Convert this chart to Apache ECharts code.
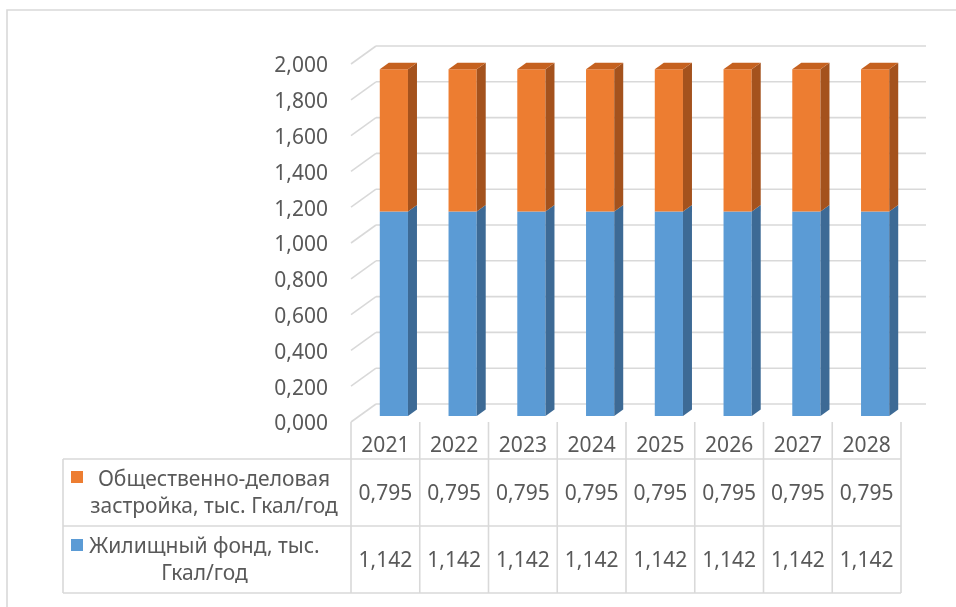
<!DOCTYPE html>
<html>
<head>
<meta charset="utf-8">
<script src="https://cdn.jsdelivr.net/npm/echarts@6/dist/echarts.min.js"></script>
<style>
  html, body { margin: 0; padding: 0; background: #ffffff; }
  #chart { width: 956px; height: 607px; }
</style>
</head>
<body>
<div id="chart"></div>
<script>
// Heat demand, thousand Gcal per year, by consumer group
const years = ['2021', '2022', '2023', '2024', '2025', '2026', '2027', '2028'];
const housing = [1.142, 1.142, 1.142, 1.142, 1.142, 1.142, 1.142, 1.142];
const publicBuildings = [0.795, 0.795, 0.795, 0.795, 0.795, 0.795, 0.795, 0.795];
const yTicks = [0, 0.2, 0.4, 0.6, 0.8, 1.0, 1.2, 1.4, 1.6, 1.8, 2.0];
const rowLabels = [
  ['Общественно-деловая', 'застройка, тыс. Гкал/год'],
  ['Жилищный фонд, тыс.', 'Гкал/год']
];

const FONT = '"Noto Sans", "Open Sans", sans-serif';
const TEXT = '#595959';
const LINE = '#D9D9D9';
const DEPTH = [25, -18];            // offset of the back wall from the front plane
const BAR_FRONT = 0.34, BAR_BACK = 0.70;  // bar placement inside the depth
const TABLE_LEFT = 63;
const ROWS = [37, 104, 171];        // table row bottoms below the floor edge

const colors = {
  public:  { front: '#ED7D31', side: '#A4521D', top: '#C5611F' },
  housing: { front: '#5B9BD5', side: '#3D6A95', top: '#4A83B8' }
};

const fmt = v => v.toFixed(3).replace('.', ',');

const chart = echarts.init(document.getElementById('chart'), null, { renderer: 'canvas' });

// back wall grid lines, slanted side wall lines and the value labels
function renderGrid(params, api) {
  const cs = params.coordSys;
  const v = api.value(1);
  const y = api.coord([0, v])[1];
  const x0 = cs.x, x1 = cs.x + cs.width;
  const st = { stroke: LINE, lineWidth: 1.6 };
  return {
    type: 'group',
    children: [
      { type: 'line', shape: { x1: x0, y1: y, x2: x0 + DEPTH[0], y2: y + DEPTH[1] }, style: st },
      { type: 'line', shape: { x1: x0 + DEPTH[0], y1: y + DEPTH[1], x2: x1 + DEPTH[0], y2: y + DEPTH[1] }, style: st },
      { type: 'text', style: { text: fmt(v), x: x0 - 23, y: y + 2.5, align: 'right', verticalAlign: 'middle',
                               fontSize: 21, fontFamily: FONT, fill: TEXT } }
    ]
  };
}

// stacked prism columns
function renderBars(params, api) {
  const i = api.value(0);
  const h = api.value(1), p = api.value(2);
  const band = api.size([1, 0])[0];
  const w = band * 0.41;
  const c0 = api.coord([i, 0]);
  const c1 = api.coord([i, h]);
  const c2 = api.coord([i, h + p]);
  const fx = DEPTH[0] * BAR_FRONT, fy = DEPTH[1] * BAR_FRONT;
  const dx = DEPTH[0] * (BAR_BACK - BAR_FRONT), dy = DEPTH[1] * (BAR_BACK - BAR_FRONT);
  const L = c0[0] - w / 2 + fx, R = c0[0] + w / 2 + fx;
  const y0 = c0[1] + fy, y1 = c1[1] + fy, y2 = c2[1] + fy;
  function block(yb, yt, col, withTop) {
    const els = [
      { type: 'polygon', shape: { points: [[L, yb], [R, yb], [R, yt], [L, yt]] }, style: { fill: col.front } },
      { type: 'polygon', shape: { points: [[R, yb], [R + dx, yb + dy], [R + dx, yt + dy], [R, yt]] }, style: { fill: col.side } }
    ];
    if (withTop) {
      els.push({ type: 'polygon', shape: { points: [[L, yt], [R, yt], [R + dx, yt + dy], [L + dx, yt + dy]] }, style: { fill: col.top } });
    }
    return els;
  }
  return {
    type: 'group',
    children: block(y0, y1, colors.housing, false).concat(block(y1, y2, colors.public, true))
  };
}

// data table under the plot
function renderTable(params, api) {
  const cs = params.coordSys;
  const i = api.value(0);
  const band = api.size([1, 0])[0];
  const cx = api.coord([i, 0])[0];
  const base = cs.y + cs.height;
  const st = { stroke: LINE, lineWidth: 1.6 };
  const txt = (s, y, size) => ({
    type: 'text',
    style: { text: s, x: cx, y: y, align: 'center', verticalAlign: 'middle',
             fontSize: size, fontFamily: FONT, fill: TEXT }
  });
  const els = [
    { type: 'line', shape: { x1: cx - band / 2, y1: base, x2: cx - band / 2, y2: base + ROWS[2] }, style: st },
    txt(years[i], base + 24.5, 21),
    txt(fmt(api.value(2)), base + 72.5, 21),
    txt(fmt(api.value(1)), base + 139.5, 21)
  ];
  if (i === years.length - 1) {
    els.push({ type: 'line', shape: { x1: cx + band / 2, y1: base, x2: cx + band / 2, y2: base + ROWS[2] }, style: st });
  }
  if (i === 0) {
    const right = cs.x + cs.width;
    ROWS.forEach(r => {
      els.push({ type: 'line', shape: { x1: TABLE_LEFT, y1: base + r, x2: right, y2: base + r }, style: st });
    });
    els.push({ type: 'line', shape: { x1: TABLE_LEFT, y1: base + ROWS[0], x2: TABLE_LEFT, y2: base + ROWS[2] }, style: st });
  }
  return { type: 'group', children: els };
}

const rowText = (s, x, y) => ({
  type: 'text', x: x, y: y,
  style: { text: s, align: 'center', verticalAlign: 'middle', fontSize: 21, fontFamily: FONT, fill: TEXT }
});

const option = {
  animation: false,
  backgroundColor: '#ffffff',
  grid: { left: 351, right: 55, top: 64, bottom: 185, containLabel: false },
  xAxis: {
    type: 'category',
    data: years,
    axisLine: { show: false },
    axisTick: { show: false },
    axisLabel: { show: false },
    splitLine: { show: false }
  },
  yAxis: {
    type: 'value',
    min: 0,
    max: 2,
    interval: 0.2,
    axisLine: { show: false },
    axisTick: { show: false },
    splitLine: { show: false },
    axisLabel: { show: false }
  },
  graphic: [
    { type: 'rect', shape: { x: 7, y: 10, width: 980, height: 640 }, style: { fill: 'none', stroke: LINE, lineWidth: 1.6 }, silent: true },
    { type: 'rect', shape: { x: 71, y: 471, width: 12, height: 12 }, style: { fill: colors.public.front } },
    rowText(rowLabels[0][0], 214, 480.5),
    rowText(rowLabels[0][1], 214, 507.5),
    { type: 'rect', shape: { x: 71, y: 539, width: 12, height: 12 }, style: { fill: colors.housing.front } },
    rowText(rowLabels[1][0], 204.5, 547.5),
    rowText(rowLabels[1][1], 204.5, 574.5)
  ],
  series: [
    {
      type: 'custom',
      name: 'grid',
      z: 1,
      renderItem: renderGrid,
      data: yTicks.map(v => [0, v]),
      silent: true
    },
    {
      type: 'custom',
      name: 'Жилищный фонд / Общественно-деловая застройка',
      z: 3,
      renderItem: renderBars,
      data: years.map((y, i) => [i, housing[i], publicBuildings[i]])
    },
    {
      type: 'custom',
      name: 'table',
      z: 2,
      renderItem: renderTable,
      data: years.map((y, i) => [i, housing[i], publicBuildings[i]]),
      silent: true
    }
  ]
};

chart.setOption(option);
</script>
</body>
</html>
